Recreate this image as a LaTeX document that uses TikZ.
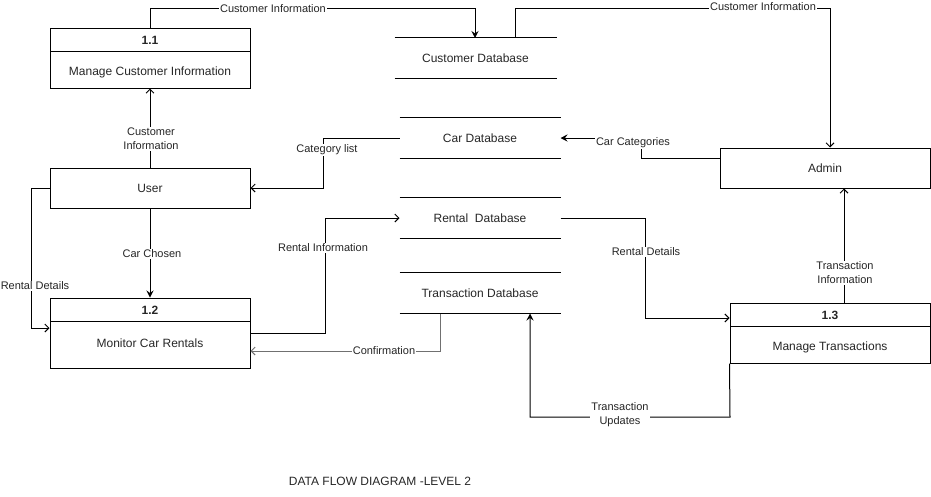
\documentclass[tikz,border=0pt]{standalone}
\usepackage{fontspec}
\setmainfont{Liberation Sans}
\usetikzlibrary{arrows.meta,calc}
\definecolor{cgray}{HTML}{707070}
\definecolor{txt}{HTML}{262626}
\begin{document}
\begin{tikzpicture}[x=1pt,y=-1pt,
  line width=1pt,
  every node/.style={text=txt},
  box/.style={draw=black, line width=1pt, minimum width=200pt, inner sep=0pt, font=\fontsize{12}{14}\selectfont},
  store/.style={minimum width=160pt, minimum height=40pt, inner sep=0pt, font=\fontsize{12}{14}\selectfont},
  nt/.style={font=\fontsize{12}{14}\selectfont, inner sep=0pt},
  ntb/.style={font=\fontsize{12}{14}\selectfont\bfseries, inner sep=0pt},
  lab/.style={font=\fontsize{11}{14}\selectfont, fill=white, inner sep=1pt, align=center},
  openarr/.style={-{Straight Barb[length=4pt,width=8pt,line width=1pt]}},
  fillarr/.style={-{Stealth[length=7pt,width=7pt,inset=2.5pt]}}
]
\useasboundingbox (0,0) rectangle (931,496);

% process boxes
\node[box, minimum height=60pt] (p11) at (150,58) {};
\draw (50,51) -- (250,51);
\node[ntb] (p11n) at (150,40) {1.1};
\node[nt] (p11t) at (150,72) {Manage Customer Information};

\node[box, minimum height=40pt] (user) at (150,188) {User};

\node[box, minimum height=70pt] (p12) at (150,333) {};
\draw (50,321) -- (250,321);
\node[ntb] (p12n) at (150,310) {1.2};
\node[nt] (p12t) at (150,343) {Monitor Car Rentals};

\node[box, minimum height=60pt] (p13) at (830,333) {};
\draw (730,326) -- (930,326);
\node[ntb] (p13n) at (830,315) {1.3};
\node[nt] (p13t) at (830,347) {Manage Transactions};

\node[box, minimum width=210pt, minimum height=40pt] (admin) at (825,168) {Admin};

% data stores
\node[store, minimum width=161pt] (cdb) at (475.5,58) {Customer Database};
\node[store] (cardb) at (480,138) {Car Database};
\node[store] (rentdb) at (480,218) {Rental\ \ Database};
\node[store] (transdb) at (480,293) {Transaction Database};
\foreach \s in {cdb,cardb,rentdb,transdb}{
  \draw (\s.north west) -- (\s.north east);
  \draw (\s.south west) -- (\s.south east);
}

% connectors
\draw[fillarr] (p11.north) -- (p11.north |- 0,8) -| (475,38);
\draw[openarr] (cdb.north -| 515,0) -- (515,8) -| (admin.north -| 830,0);
\draw[openarr] (user.north) -- (p11.south);
\draw[openarr] (cardb.west) -- (cardb.west -| 323,0) |- (user.east);
\draw[fillarr] (admin.west |- 0,158) -- (641,158) |- (cardb.east);
\draw[fillarr] (user.south) -- (p12.north);
\draw[openarr] (user.west) -- (31,188) |- (p12.west |- 0,328);
\draw[openarr] (p12.east) -- (325,333) |- (rentdb.west);
\draw[openarr, draw=cgray] (transdb.south -| 440,0) |- (p12.east |- 0,351);
\draw[openarr] (rentdb.east) -- (645,218) |- (p13.west |- 0,318);
\draw[openarr] (p13.north -| 844,0) -- (admin.south -| 844,0);
\draw[fillarr] (p13.south west) -- (730,417) -| (transdb.south -| 530,0);

% labels
\node[lab] (l1) at (273,9) {Customer Information};
\node[lab] (l2) at (763,7) {Customer Information};
\node[lab] (l3) at (151,139) {Customer\\Information};
\node[lab] (l4) at (327,150) {Category list};
\node[lab] (l5) at (633,143) {Car Categories};
\node[lab] (l6) at (152,254) {Car Chosen};
\node[lab] (l7) at (35,286) {Rental Details};
\node[lab] (l8) at (323,248) {Rental Information};
\node[lab] (l9) at (384,351) {Confirmation};
\node[lab] (l10) at (646,252) {Rental Details};
\node[lab] (l11) at (845,273) {Transaction\\Information};
\node[lab] (l12) at (620,415) {Transaction\\Updates};

\node[nt] (title) at (380,481) {DATA FLOW DIAGRAM -LEVEL 2};
\end{tikzpicture}
\end{document}
